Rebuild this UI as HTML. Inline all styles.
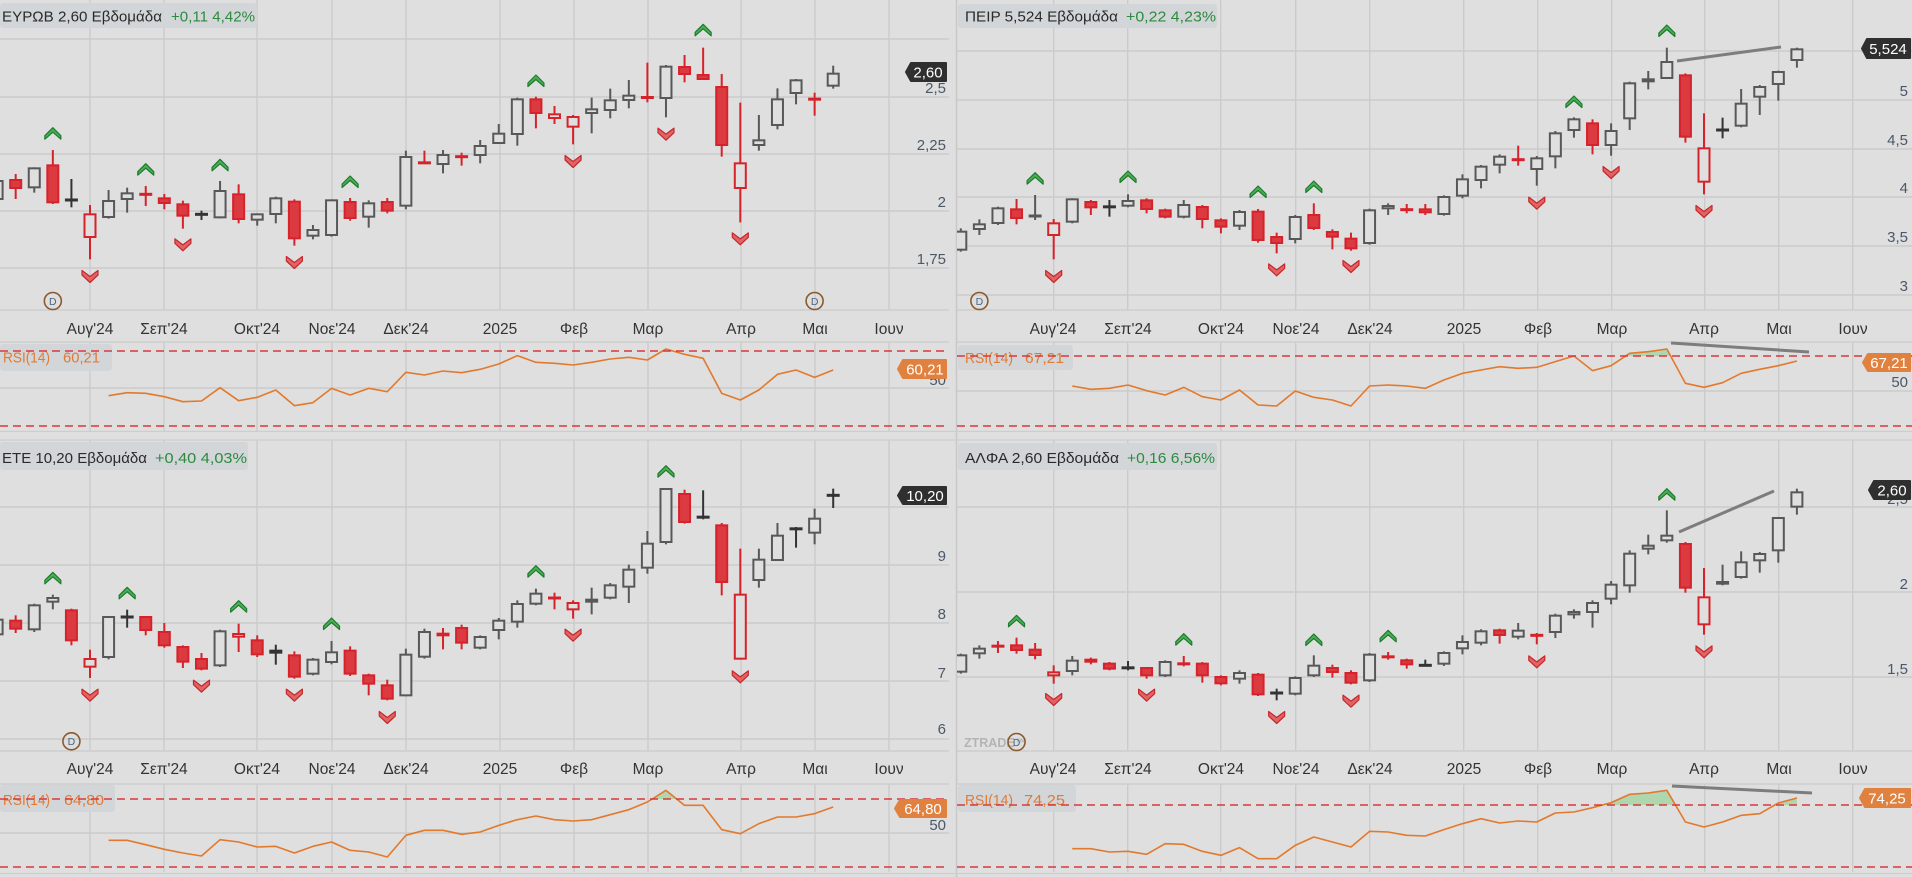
<!DOCTYPE html>
<html><head><meta charset="utf-8">
<style>
html,body{margin:0;padding:0;background:#dfdfdf;width:1912px;height:877px;overflow:hidden}
svg{display:block}
text{font-family:"Liberation Sans",sans-serif}
</style></head><body>
<svg id="s" width="1912" height="877" viewBox="0 0 1912 877" xmlns="http://www.w3.org/2000/svg">
<defs>
<clipPath id="cL"><rect x="0" y="0" width="949" height="877"/></clipPath>
<clipPath id="cR"><rect x="957" y="0" width="955" height="877"/></clipPath>
</defs>
<rect x="0" y="0" width="1912" height="877" fill="#dfdfdf"/>
<g id="grid"></g>
<g id="static1">
  <!-- header boxes -->
  <rect x="0" y="3" width="257" height="25" rx="3" fill="#d3d6d9"/>
  <text x="2" y="21.5" font-size="15" fill="#2a2a2a" textLength="160" lengthAdjust="spacingAndGlyphs">ΕΥΡΩΒ 2,60 Εβδομάδα</text>
  <text x="171" y="21.5" font-size="15" fill="#2d8a3e" textLength="84" lengthAdjust="spacingAndGlyphs">+0,11 4,42%</text>

  <rect x="958" y="4" width="259" height="24" rx="3" fill="#d3d6d9"/>
  <text x="965" y="21.5" font-size="15" fill="#2a2a2a" textLength="153" lengthAdjust="spacingAndGlyphs">ΠΕΙΡ 5,524 Εβδομάδα</text>
  <text x="1126" y="21.5" font-size="15" fill="#2d8a3e" textLength="90" lengthAdjust="spacingAndGlyphs">+0,22 4,23%</text>

  <rect x="0" y="442" width="248" height="28" rx="3" fill="#d3d6d9"/>
  <text x="2" y="463" font-size="15" fill="#2a2a2a" textLength="145" lengthAdjust="spacingAndGlyphs">ΕΤΕ 10,20 Εβδομάδα</text>
  <text x="155" y="463" font-size="15" fill="#2d8a3e" textLength="92" lengthAdjust="spacingAndGlyphs">+0,40 4,03%</text>

  <rect x="958" y="443" width="259" height="27" rx="3" fill="#d3d6d9"/>
  <text x="965" y="463" font-size="15" fill="#2a2a2a" textLength="154" lengthAdjust="spacingAndGlyphs">ΑΛΦΑ 2,60 Εβδομάδα</text>
  <text x="1127" y="463" font-size="15" fill="#2d8a3e" textLength="88" lengthAdjust="spacingAndGlyphs">+0,16 6,56%</text>

  <!-- RSI label boxes -->
  <rect x="0" y="344" width="112" height="27" rx="3" fill="#d3d6d9"/>
  <text x="3" y="362.5" font-size="15" fill="#e07a35" textLength="47" lengthAdjust="spacingAndGlyphs">RSI(14)</text>
  <text x="63" y="362.5" font-size="15" fill="#e07a35" textLength="37" lengthAdjust="spacingAndGlyphs">60,21</text>

  <rect x="958" y="345" width="115" height="25" rx="3" fill="#d3d6d9"/>
  <text x="965" y="363" font-size="15" fill="#e07a35" textLength="48" lengthAdjust="spacingAndGlyphs">RSI(14)</text>
  <text x="1025" y="363" font-size="15" fill="#e07a35" textLength="39" lengthAdjust="spacingAndGlyphs">67,21</text>

  <rect x="0" y="785" width="115" height="27" rx="3" fill="#d3d6d9"/>
  <text x="3" y="805" font-size="15" fill="#e07a35" textLength="47" lengthAdjust="spacingAndGlyphs">RSI(14)</text>
  <text x="64" y="805" font-size="15" fill="#e07a35" textLength="40" lengthAdjust="spacingAndGlyphs">64,80</text>

  <rect x="958" y="785" width="118" height="27" rx="3" fill="#d3d6d9"/>
  <text x="965" y="805" font-size="15" fill="#e07a35" textLength="48" lengthAdjust="spacingAndGlyphs">RSI(14)</text>
  <text x="1024" y="805" font-size="15" fill="#e07a35" textLength="41" lengthAdjust="spacingAndGlyphs">74,25</text>

  <!-- price axis labels -->
  <g font-size="15" fill="#4a5868" text-anchor="end">
    <text x="946" y="93">2,5</text>
    <text x="946" y="150">2,25</text>
    <text x="946" y="207">2</text>
    <text x="946" y="264">1,75</text>
    <text x="946" y="385">50</text>

    <text x="1908" y="48">5,5</text>
    <text x="1908" y="96">5</text>
    <text x="1908" y="145">4,5</text>
    <text x="1908" y="193">4</text>
    <text x="1908" y="242">3,5</text>
    <text x="1908" y="291">3</text>
    <text x="1908" y="387">50</text>

    <text x="946" y="503">10</text>
    <text x="946" y="561">9</text>
    <text x="946" y="619">8</text>
    <text x="946" y="678">7</text>
    <text x="946" y="734">6</text>
    <text x="946" y="830">50</text>

    <text x="1908" y="504">2,5</text>
    <text x="1908" y="589">2</text>
    <text x="1908" y="674">1,5</text>
  </g>

  <!-- date labels -->
  <g font-size="15.5" fill="#333" text-anchor="middle">
    <text x="90" y="334">Αυγ'24</text><text x="164" y="334">Σεπ'24</text><text x="257" y="334">Οκτ'24</text><text x="332" y="334">Νοε'24</text><text x="406" y="334">Δεκ'24</text><text x="500" y="334">2025</text><text x="574" y="334">Φεβ</text><text x="648" y="334">Μαρ</text><text x="741" y="334">Απρ</text><text x="815" y="334">Μαι</text><text x="889" y="334">Ιουν</text>

    <text x="1053" y="334">Αυγ'24</text><text x="1128" y="334">Σεπ'24</text><text x="1221" y="334">Οκτ'24</text><text x="1296" y="334">Νοε'24</text><text x="1370" y="334">Δεκ'24</text><text x="1464" y="334">2025</text><text x="1538" y="334">Φεβ</text><text x="1612" y="334">Μαρ</text><text x="1704" y="334">Απρ</text><text x="1779" y="334">Μαι</text><text x="1853" y="334">Ιουν</text>

    <text x="90" y="774">Αυγ'24</text><text x="164" y="774">Σεπ'24</text><text x="257" y="774">Οκτ'24</text><text x="332" y="774">Νοε'24</text><text x="406" y="774">Δεκ'24</text><text x="500" y="774">2025</text><text x="574" y="774">Φεβ</text><text x="648" y="774">Μαρ</text><text x="741" y="774">Απρ</text><text x="815" y="774">Μαι</text><text x="889" y="774">Ιουν</text>

    <text x="1053" y="774">Αυγ'24</text><text x="1128" y="774">Σεπ'24</text><text x="1221" y="774">Οκτ'24</text><text x="1296" y="774">Νοε'24</text><text x="1370" y="774">Δεκ'24</text><text x="1464" y="774">2025</text><text x="1538" y="774">Φεβ</text><text x="1612" y="774">Μαρ</text><text x="1704" y="774">Απρ</text><text x="1779" y="774">Μαι</text><text x="1853" y="774">Ιουν</text>
  </g>

  <text x="964" y="747" font-size="12.5" font-weight="bold" fill="#b4b4b4">ZTRADE™</text>
</g>
<g id="plot"></g>
<g id="static2">
  <!-- price badges -->
  <polygon points="906,72 911,63 946,63 946,81 911,81" fill="#2f2f2f" stroke="#2f2f2f" stroke-width="2" stroke-linejoin="round"/>
  <text x="928" y="77.5" font-size="15" fill="#fff" text-anchor="middle">2,60</text>

  <polygon points="1862,48.5 1867,39 1910,39 1910,58 1867,58" fill="#2f2f2f" stroke="#2f2f2f" stroke-width="2" stroke-linejoin="round"/>
  <text x="1888" y="54" font-size="15" fill="#fff" text-anchor="middle">5,524</text>

  <polygon points="898,495.5 903,487 946,487 946,504 903,504" fill="#2f2f2f" stroke="#2f2f2f" stroke-width="2" stroke-linejoin="round"/>
  <text x="925" y="501" font-size="15" fill="#fff" text-anchor="middle">10,20</text>

  <polygon points="1869,490 1874,481 1910,481 1910,499 1874,499" fill="#2f2f2f" stroke="#2f2f2f" stroke-width="2" stroke-linejoin="round"/>
  <text x="1892" y="495.5" font-size="15" fill="#fff" text-anchor="middle">2,60</text>

  <!-- RSI badges -->
  <polygon points="898,369 903,360 946,360 946,378 903,378" fill="#e0813f" stroke="#e0813f" stroke-width="2" stroke-linejoin="round"/>
  <text x="925" y="374.5" font-size="15" fill="#fff" text-anchor="middle">60,21</text>

  <polygon points="1863,362.5 1868,354 1910,354 1910,371 1868,371" fill="#e0813f" stroke="#e0813f" stroke-width="2" stroke-linejoin="round"/>
  <text x="1889" y="368" font-size="15" fill="#fff" text-anchor="middle">67,21</text>

  <polygon points="895,808.5 900,800 946,800 946,817 900,817" fill="#e0813f" stroke="#e0813f" stroke-width="2" stroke-linejoin="round"/>
  <text x="923" y="814" font-size="15" fill="#fff" text-anchor="middle">64,80</text>

  <polygon points="1860,798 1865,789 1910,789 1910,807 1865,807" fill="#e0813f" stroke="#e0813f" stroke-width="2" stroke-linejoin="round"/>
  <text x="1887" y="803.5" font-size="15" fill="#fff" text-anchor="middle">74,25</text>
</g>
</svg>
<script>
(function(){
const NS='http://www.w3.org/2000/svg';
const svg=document.getElementById('s');
const defs=svg.querySelector('defs');
const gridG=document.getElementById('grid');
const plotG=document.getElementById('plot');
function mk(parent,tag,attrs){const e=document.createElementNS(NS,tag);for(const k in attrs)e.setAttribute(k,attrs[k]);parent.appendChild(e);return e;}
const BG='#dfdfdf';
const GRID='#cbcbcb';
const COL={g:['#585858',BG],r:['#d6232b','#da3a40'],h:['#d6232b',BG],d:['#333333','#333333']};
const monthsL=[90,164,257,332,406,500,574,648,741,815,889];

const P=[
{ // TL
 ox:0, oy:0, x0:0, x1:949, clip:'cL',
 hgrid:[39,97,154,211,268], top:0, pbot:310, rtop:342, rbot:431, y70:351, y30:426, y50:388,
 c:[[-5,540,600,530,605,'g'],[-4,537,567,522,597,'r'],[-3,502,565,502,578,'g'],[-2,493,610,450,612,'r'],[-1,598,602,537,622,'d'],[0,640,714,615,778,'h'],[1,600,654,570,656,'g'],[2,577,600,563,638,'g'],[3,579,587,558,618,'r'],[4,592,612,582,628,'r'],[5,610,650,602,686,'r'],[6,640,646,632,660,'d'],[7,570,655,543,655,'g'],[8,580,660,553,670,'r'],[9,640,662,640,677,'g'],[10,592,645,590,670,'g'],[11,602,718,598,737,'r'],[12,687,710,675,718,'g'],[13,598,708,598,710,'g'],[14,603,657,594,662,'r'],[15,607,653,601,683,'g'],[16,603,635,594,640,'r'],[17,468,620,452,628,'g'],[18,485,492,452,492,'r'],[19,462,495,450,520,'g'],[20,467,473,458,497,'r'],[21,435,468,420,490,'g'],[22,398,432,372,432,'g'],[23,295,405,293,437,'g'],[24,295,342,290,385,'r'],[25,340,357,318,372,'h'],[26,348,383,345,433,'h'],[27,325,342,293,400,'g'],[28,298,333,266,355,'g'],[29,284,303,240,325,'g'],[30,288,297,188,307,'r'],[31,197,297,195,352,'g'],[32,198,225,165,247,'r'],[33,222,240,143,240,'r'],[34,258,438,222,470,'r'],[35,487,567,308,667,'h'],[36,418,438,345,452,'g'],[37,295,378,265,388,'g'],[38,238,282,237,313,'g'],[39,295,300,278,347,'r'],[40,218,260,197,266,'g']],
 rsi:[1187,1178,1180,1190,1205,1203,1163,1202,1192,1170,1217,1208,1165,1185,1165,1175,1117,1125,1113,1118,1108,1092,1067,1087,1090,1095,1087,1077,1072,1080,1047,1063,1075,1180,1200,1170,1123,1110,1132,1110],
 up:[[-2,380],[3,488],[7,475],[14,525],[24,222],[33,70]],
 dn:[[0,810],[5,715],[11,768],[26,465],[31,383],[35,697]],
 D:[[-2,903],[39,903]],
 trend:null, rtrend:null
},
{ // TR
 ox:963.7, oy:0, x0:957, x1:1912, clip:'cR',
 hgrid:[51,100,149,197,246,295], top:0, pbot:310, rtop:342, rbot:431, y70:356, y30:426, y50:391,
 c:[[-5,692,752,685,755,'g'],[-4,670,690,658,705,'g'],[-3,622,672,620,675,'g'],[-2,625,657,597,673,'r'],[-1,643,653,585,660,'g'],[0,667,708,657,778,'h'],[1,595,668,595,670,'g'],[2,603,625,600,645,'r'],[3,618,623,600,650,'d'],[4,600,620,583,622,'g'],[5,598,630,595,640,'r'],[6,628,653,626,655,'r'],[7,612,653,600,655,'g'],[8,618,660,615,685,'r'],[9,658,683,655,700,'r'],[10,633,680,630,690,'g'],[11,632,723,627,728,'r'],[12,708,732,698,760,'r'],[13,648,720,645,730,'g'],[14,642,687,610,690,'r'],[15,693,713,688,748,'r'],[16,713,748,698,752,'r'],[17,628,732,626,734,'g'],[18,615,628,610,645,'g'],[19,625,633,612,640,'h'],[20,625,640,612,645,'r'],[21,588,645,586,647,'g'],[22,535,590,523,595,'g'],[23,497,543,495,565,'g'],[24,467,497,463,520,'g'],[25,475,483,437,497,'r'],[26,472,510,468,557,'g'],[27,397,472,393,505,'g'],[28,355,393,352,413,'g'],[29,367,438,358,463,'r'],[30,390,438,370,467,'g'],[31,247,358,245,390,'g'],[32,235,247,213,268,'g'],[33,183,237,143,237,'g'],[34,223,413,220,428,'r'],[35,442,548,340,583,'h'],[36,388,392,353,415,'d'],[37,308,380,267,382,'g'],[38,258,293,255,345,'g'],[39,213,255,212,302,'g'],[40,145,183,143,203,'g']],
 rsi:[1158,1168,1165,1155,1172,1185,1162,1190,1200,1170,1215,1218,1173,1192,1200,1218,1158,1155,1158,1165,1140,1120,1110,1100,1105,1102,1085,1068,1112,1097,1060,1055,1047,1150,1162,1148,1120,1108,1097,1083],
 up:[[-1,515],[4,510],[11,555],[14,540],[28,285],[33,72]],
 dn:[[0,810],[12,790],[16,780],[26,590],[30,498],[35,615]],
 D:[[-4,903]],
 trend:[1677,61,1781,47], rtrend:[1671,343,1809,352]
},
{ // BL
 ox:0, oy:437, x0:0, x1:949, clip:'cL',
 hgrid:[507,565,623,681,739], top:440, pbot:751, rtop:784, rbot:872, y70:799, y30:867, y50:833,
 c:[[-5,545,595,540,598,'g'],[-4,548,578,535,588,'r'],[-3,502,580,500,585,'g'],[-2,480,497,473,517,'g'],[-1,517,613,515,625,'r'],[0,663,692,638,723,'h'],[1,537,663,537,667,'g'],[2,537,543,518,572,'d'],[3,537,582,537,595,'r'],[4,582,628,558,632,'r'],[5,627,677,625,693,'r'],[6,663,698,648,700,'r'],[7,580,688,578,690,'g'],[8,588,602,560,645,'h'],[9,607,655,595,660,'r'],[10,638,650,623,683,'d'],[11,652,722,643,725,'r'],[12,665,713,663,715,'g'],[13,643,678,612,682,'g'],[14,638,713,628,717,'r'],[15,712,743,710,775,'r'],[16,742,788,728,790,'r'],[17,650,778,635,778,'g'],[18,582,662,575,665,'g'],[19,587,598,573,637,'h'],[20,570,620,563,637,'r'],[21,597,635,595,637,'g'],[22,548,582,543,607,'g'],[23,498,557,490,572,'g'],[24,467,503,455,505,'g'],[25,478,488,467,517,'r'],[26,495,520,490,545,'h'],[27,485,497,452,532,'g'],[28,442,485,438,487,'g'],[29,395,452,383,498,'g'],[30,317,395,282,410,'g'],[31,153,318,153,322,'g'],[32,168,258,158,260,'r'],[33,238,243,160,247,'d'],[34,262,438,258,475,'r'],[35,470,668,335,668,'h'],[36,365,432,335,452,'g'],[37,293,372,258,372,'g'],[38,273,278,270,332,'d'],[39,242,290,215,322,'g'],[40,173,177,155,213,'d']],
 rsi:[1210,1210,1223,1237,1248,1257,1208,1215,1230,1228,1248,1228,1215,1240,1245,1260,1195,1180,1180,1192,1185,1165,1148,1137,1148,1152,1148,1133,1118,1095,1060,1105,1105,1178,1190,1160,1140,1140,1130,1110],
 up:[[-2,403],[2,448],[8,488],[13,540],[24,383],[31,83]],
 dn:[[0,755],[6,728],[11,755],[16,822],[26,575],[35,700]],
 D:[[-1,913]],
 trend:null, rtrend:null
},
{ // BR
 ox:963.7, oy:437, x0:957, x1:1912, clip:'cR',
 hgrid:[507,592,677], top:440, pbot:751, rtop:784, rbot:872, y70:805, y30:867, y50:null,
 c:[[-5,652,707,650,710,'g'],[-4,632,652,625,665,'g'],[-3,625,630,612,648,'r'],[-2,622,642,602,650,'r'],[-1,635,657,618,667,'r'],[0,703,718,685,740,'h'],[1,668,705,657,715,'g'],[2,665,677,662,682,'r'],[3,677,698,675,700,'r'],[4,690,695,672,700,'d'],[5,690,718,690,725,'r'],[6,672,718,670,720,'g'],[7,676,685,657,688,'h'],[8,677,718,675,737,'r'],[9,717,742,715,745,'r'],[10,705,728,700,740,'g'],[11,710,775,708,777,'r'],[12,763,773,755,790,'d'],[13,720,773,718,775,'g'],[14,683,718,655,720,'g'],[15,690,708,683,722,'r'],[16,705,740,700,742,'r'],[17,650,733,648,735,'g'],[18,657,662,645,668,'r'],[19,667,685,665,695,'r'],[20,683,687,668,688,'d'],[21,645,683,643,687,'g'],[22,612,637,595,652,'g'],[23,580,620,577,625,'g'],[24,577,597,575,620,'r'],[25,578,602,558,607,'g'],[26,590,600,588,622,'h'],[27,533,588,530,603,'g'],[28,522,535,517,545,'g'],[29,495,528,490,572,'g'],[30,440,488,432,502,'g'],[31,347,448,340,467,'g'],[32,323,338,293,352,'g'],[33,293,313,220,317,'g'],[34,318,455,315,467,'r'],[35,478,565,393,593,'h'],[36,432,443,383,445,'g'],[37,373,423,343,425,'g'],[38,348,373,345,407,'g'],[39,240,343,240,377,'g'],[40,163,212,155,233,'g']],
 rsi:[1235,1235,1245,1243,1252,1220,1222,1243,1255,1232,1265,1265,1225,1200,1215,1230,1183,1185,1195,1197,1178,1160,1145,1158,1152,1155,1128,1125,1112,1097,1072,1068,1060,1155,1170,1155,1135,1130,1098,1083],
 up:[[-2,532],[7,587],[14,588],[18,577],[33,152]],
 dn:[[0,768],[5,755],[12,822],[16,773],[26,655],[35,625]],
 D:[[-2,915]],
 trend:[1679,532,1774,491], rtrend:[1672,786,1812,793]
}
];

// global separators
mk(gridG,'line',{x1:956.5,x2:956.5,y1:0,y2:877,stroke:'#c8c8c8','stroke-width':1.5});
mk(gridG,'line',{x1:0,x2:1912,y1:431.5,y2:431.5,stroke:'#cdcdcd','stroke-width':1.2});
mk(gridG,'line',{x1:0,x2:1912,y1:440,y2:440,stroke:'#cdcdcd','stroke-width':1.2});
mk(gridG,'line',{x1:0,x2:1912,y1:873.5,y2:873.5,stroke:'#cdcdcd','stroke-width':1.2});

P.forEach((p,pi)=>{
  const X=i=>p.ox+90+18.58*i;
  const Y=z=>p.oy+z/3;
  // grid
  p.hgrid.forEach(y=>mk(gridG,'line',{x1:p.x0,x2:p.x1,y1:y,y2:y,stroke:GRID,'stroke-width':1.6}));
  monthsL.forEach(m=>{
    const x=m+(p.ox?963.7:0);
    mk(gridG,'line',{x1:x,x2:x,y1:p.top,y2:p.pbot,stroke:GRID,'stroke-width':1.4});
    mk(gridG,'line',{x1:x,x2:x,y1:p.rtop,y2:p.rbot,stroke:GRID,'stroke-width':1.4});
  });
  mk(gridG,'line',{x1:p.x0,x2:p.x1,y1:p.pbot,y2:p.pbot,stroke:'#cdcdcd','stroke-width':1.4});
  mk(gridG,'line',{x1:p.x0,x2:p.x1,y1:p.rtop,y2:p.rtop,stroke:'#cdcdcd','stroke-width':1.4});
  if(p.y50) mk(gridG,'line',{x1:p.x0,x2:p.x1,y1:p.y50,y2:p.y50,stroke:GRID,'stroke-width':1.6});

  const g=mk(plotG,'g',{'clip-path':'url(#'+p.clip+')'});
  // candles
  p.c.forEach(c=>{
    const [i,bt,bb,wt,wb,t]=c; const cx=X(i); const st=COL[t][0], fl=COL[t][1];
    mk(g,'line',{x1:cx,x2:cx,y1:Y(wt),y2:Y(wb),stroke:st,'stroke-width':2});
    let y1=Y(bt),y2=Y(bb);
    if(y2-y1<3.5){const m=(y1+y2)/2; mk(g,'rect',{x:cx-6.5,y:m-1.5,width:13,height:3,fill:st}); return;}
    mk(g,'rect',{x:cx-5.5,y:y1+1,width:11,height:y2-y1-2,fill:fl,stroke:st,'stroke-width':2});
  });
  // markers
  p.up.forEach(([i,z])=>{const cx=X(i),y=Y(z);
    mk(g,'polygon',{points:`${cx-8},${y+9} ${cx},${y+1} ${cx+8},${y+9} ${cx+8},${y+12.5} ${cx},${y+5.5} ${cx-8},${y+12.5}`,fill:'#4caf56',stroke:'#1d7a2c','stroke-width':1.2,'stroke-linejoin':'round'});
  });
  p.dn.forEach(([i,z])=>{const cx=X(i),y=Y(z);
    mk(g,'polygon',{points:`${cx-8},${y+0.5} ${cx},${y+6.5} ${cx+8},${y+0.5} ${cx+8},${y+5} ${cx},${y+12.5} ${cx-8},${y+5}`,fill:'#e06464',stroke:'#c8262c','stroke-width':1.2,'stroke-linejoin':'round'});
  });
  p.D.forEach(([i,z])=>{const cx=X(i),y=Y(z);
    mk(g,'circle',{cx:cx,cy:y,r:8.5,fill:'none',stroke:'#8a5a2e','stroke-width':1.6});
    const t=mk(g,'text',{x:cx,y:y+3.8,'font-size':10.5,fill:'#4a6580','text-anchor':'middle'}); t.textContent='D';
  });
  // RSI
  const pts=p.rsi.map((z,k)=>[X(k+1),Y(z)]);
  const cid='gc'+pi;
  const cp=mk(defs,'clipPath',{id:cid});
  mk(cp,'rect',{x:p.x0,y:p.rtop-20,width:p.x1-p.x0,height:p.y70-(p.rtop-20)});
  const poly=pts.map(a=>a.join(',')).join(' ')+` ${pts[pts.length-1][0]},${p.y70} ${pts[0][0]},${p.y70}`;
  mk(g,'polygon',{points:poly,fill:'#8fd08f','fill-opacity':0.6,'clip-path':'url(#'+cid+')'});
  mk(g,'polyline',{points:pts.map(a=>a.join(',')).join(' '),fill:'none',stroke:'#e2792c','stroke-width':1.6,'stroke-linejoin':'round'});
  // dashed lines
  [p.y70,p.y30].forEach(y=>mk(g,'line',{x1:p.x0,x2:p.x1,y1:y,y2:y,stroke:'#d8393c','stroke-width':1.6,'stroke-dasharray':'8 5'}));
  // trend lines
  if(p.trend){const t=p.trend; mk(g,'line',{x1:t[0],y1:t[1],x2:t[2],y2:t[3],stroke:'#7d7d7d','stroke-width':3});}
  if(p.rtrend){const t=p.rtrend; mk(g,'line',{x1:t[0],y1:t[1],x2:t[2],y2:t[3],stroke:'#7d7d7d','stroke-width':3});}
});
})();
</script>
</body></html>
